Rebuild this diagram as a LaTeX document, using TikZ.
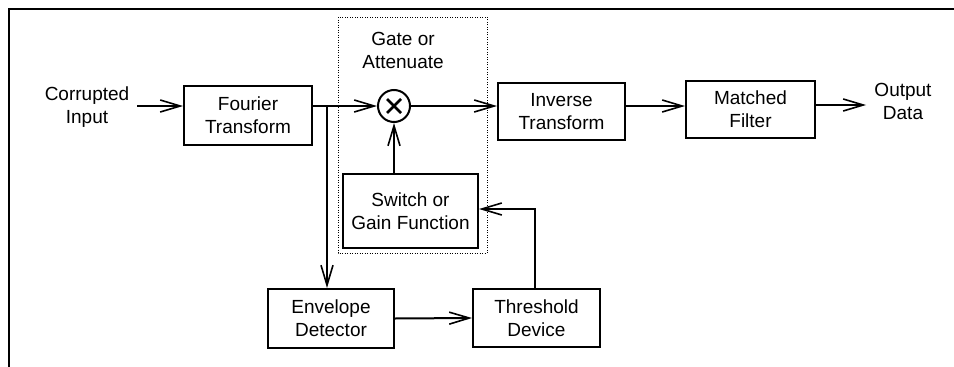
\documentclass[tikz,border=0pt]{standalone}
\usepackage{fontspec}
\setmainfont{Liberation Sans}
\usetikzlibrary{arrows.meta,calc}
\begin{document}
\begin{tikzpicture}[x=1pt,y=-1pt,
  blk/.style={draw,line width=2pt,inner sep=0pt,align=center,font=\fontsize{19}{23}\selectfont},
  lbl/.style={inner sep=0pt,align=center,font=\fontsize{19}{23}\selectfont},
  conn/.style={line width=2pt},
  arr/.style={line width=2pt,-{Straight Barb[length=20pt,width=12pt,line width=1.6pt]}}]
\useasboundingbox (0,0) rectangle (954,367);
% frame
\draw[line width=1.5pt] (9,367) -- (9,9) -- (954,9);
% dotted gate box
\draw[line width=0.8pt,dash pattern=on 1pt off 1.5pt] (338,17) rectangle (487,253);
% nodes
\node[blk,minimum width=128pt,minimum height=59pt] (fourier) at (248,115.5) {Fourier\\Transform};
\node[blk,minimum width=127pt,minimum height=57pt] (inverse) at (561.5,111.5) {Inverse\\Transform};
\node[blk,minimum width=129pt,minimum height=57pt] (matched) at (750.5,109.5) {Matched\\Filter};
\node[blk,minimum width=135pt,minimum height=74pt] (switch) at (410.5,211) {Switch or\\Gain Function};
\node[blk,minimum width=126pt,minimum height=59pt] (envelope) at (331,318.5) {Envelope\\Detector};
\node[blk,minimum width=127pt,minimum height=58pt] (threshold) at (536.5,318) {Threshold\\Device};
\node[draw,circle,line width=2pt,minimum size=32pt,inner sep=0pt] (mult) at (394,106) {};
\draw[line width=2.6pt] ($(mult.center)+(-7,-7)$) -- ($(mult.center)+(7,7)$);
\draw[line width=2.6pt] ($(mult.center)+(-7,7)$) -- ($(mult.center)+(7,-7)$);
\node[lbl] (input) at (87,107) {Corrupted\\Input};
\node[lbl] (output) at (903,101.5) {Output\\Data};
\node[lbl] (gate) at (403,50) {Gate or\\Attenuate};
% coordinates
\coordinate (instart) at (137,106);
\coordinate (branch) at (327,106);
\coordinate (outend) at (866,105);
% connectors
\draw[arr] (instart) -- (fourier.west |- instart);
\draw[conn] (fourier.east |- mult) -- (branch);
\draw[arr] (branch) -- (mult.west);
\draw[arr] (branch) -- (branch |- envelope.north);
\draw[arr] (mult.east) -- (inverse.west |- mult);
\draw[arr] (inverse.east |- mult) -- (matched.west |- mult);
\draw[arr] (matched.east |- outend) -- (outend);
\draw[arr] (mult |- switch.north) -- (mult.south);
\draw[arr] (envelope.east) -- (threshold.west);
\draw[arr] (threshold.north -| 535,0) |- ($(switch.east)+(0,-2)$);
\end{tikzpicture}
\end{document}
